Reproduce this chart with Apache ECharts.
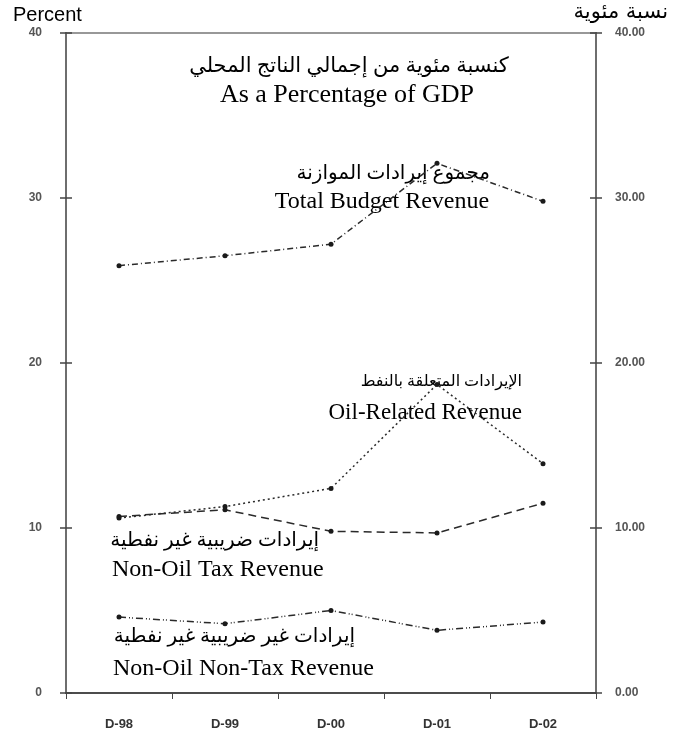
<!DOCTYPE html>
<html>
<head>
<meta charset="utf-8">
<script src="https://cdn.jsdelivr.net/npm/echarts@6/dist/echarts.min.js"></script>
<style>html,body{margin:0;padding:0;background:#fff;}#c{width:684px;height:736px;}</style>
</head>
<body>
<div id="c"></div>
<script>
const categories = ['D-98', 'D-99', 'D-00', 'D-01', 'D-02'];
const totalRevenue = [25.9, 26.5, 27.2, 32.1, 29.8];
const oilRevenue = [10.6, 11.3, 12.4, 18.7, 13.9];
const nonOilTax = [10.7, 11.1, 9.8, 9.7, 11.5];
const nonOilNonTax = [4.6, 4.2, 5.0, 3.8, 4.3];
const yTicks = [0, 10, 20, 30, 40];

const chart = echarts.init(document.getElementById('c'));
const serif = '"Liberation Serif", "DejaVu Sans", serif';
const axisCol = '#6e6e6e';

function yAx(pos, inside, showLabel, fmt) {
  return {
    type: 'value', position: pos, min: yTicks[0], max: yTicks[yTicks.length - 1], interval: 10,
    axisLine: { show: true, lineStyle: { color: axisCol, width: 2 } },
    axisTick: { show: true, inside: inside, length: 6, lineStyle: { color: '#444', width: 1.5 } },
    splitLine: { show: false },
    axisLabel: {
      show: showLabel, color: '#555', fontSize: 12, fontWeight: 'bold',
      fontFamily: '"Liberation Sans Narrow", "Liberation Sans", sans-serif',
      margin: pos === 'left' ? 24 : 19, formatter: fmt
    }
  };
}

function ser(name, data, dash) {
  return {
    name: name, type: 'line', data: data, yAxisIndex: 0,
    symbol: 'circle', symbolSize: 5, showSymbol: true,
    itemStyle: { color: '#1a1a1a' },
    lineStyle: { color: '#2a2a2a', width: 1.5, type: dash },
    animation: false, z: 5
  };
}

function txt(s, x, y, size, align) {
  return { type: 'text', x: x, y: y, style: { text: s, fontSize: size, fontFamily: serif, fill: '#000', align: align, verticalAlign: 'middle' } };
}

const option = {
  animation: false,
  backgroundColor: '#fff',
  grid: { left: 66, right: 88, top: 33, bottom: 43, show: true, borderColor: '#777', borderWidth: 1.5, backgroundColor: 'transparent' },
  xAxis: {
    type: 'category', data: categories, boundaryGap: true,
    axisLine: { show: true, lineStyle: { color: '#333', width: 1.5 } },
    axisTick: { show: true, length: 6, lineStyle: { color: '#444' } },
    axisLabel: { color: '#333', fontSize: 13, fontWeight: 'bold', margin: 25,
      fontFamily: '"Liberation Sans Narrow", "Liberation Sans", sans-serif' }
  },
  yAxis: [
    yAx('left', false, true, v => String(v)),
    yAx('right', false, true, v => v.toFixed(2)),
    yAx('left', true, false),
    yAx('right', true, false)
  ],
  series: [
    ser('Total Budget Revenue', totalRevenue, [6, 3, 1, 3]),
    ser('Oil-Related Revenue', oilRevenue, [2, 3]),
    ser('Non-Oil Tax Revenue', nonOilTax, [8, 5]),
    ser('Non-Oil Non-Tax Revenue', nonOilNonTax, [7, 3, 1, 2, 1, 3])
  ],
  graphic: [
    { type: 'text', left: 13, top: 5, style: { text: 'Percent', fontSize: 20, fontFamily: '"Liberation Sans", sans-serif', fill: '#000' } },
    { type: 'text', right: 16, top: 2, style: { text: 'نسبة مئوية', fontSize: 21, fontFamily: '"DejaVu Sans", sans-serif', fill: '#000' } },
    txt('كنسبة مئوية من إجمالي الناتج المحلي', 349, 66, 21, 'center'),
    txt('As a Percentage of GDP', 347, 95, 26, 'center'),
    txt('مجموع إيرادات الموازنة', 490, 174, 20, 'right'),
    txt('Total Budget Revenue', 382, 202, 24, 'center'),
    txt('الإيرادات المتعلقة بالنفط', 522, 382, 16, 'right'),
    txt('Oil-Related Revenue', 522, 413, 23, 'right'),
    txt('إيرادات ضريبية غير نفطية', 319, 541, 20, 'right'),
    txt('Non-Oil Tax Revenue', 112, 570, 24, 'left'),
    txt('إيرادات غير ضريبية غير نفطية', 355, 637, 20, 'right'),
    txt('Non-Oil Non-Tax Revenue', 113, 669, 24, 'left')
  ]
};
chart.setOption(option);
</script>
</body>
</html>
